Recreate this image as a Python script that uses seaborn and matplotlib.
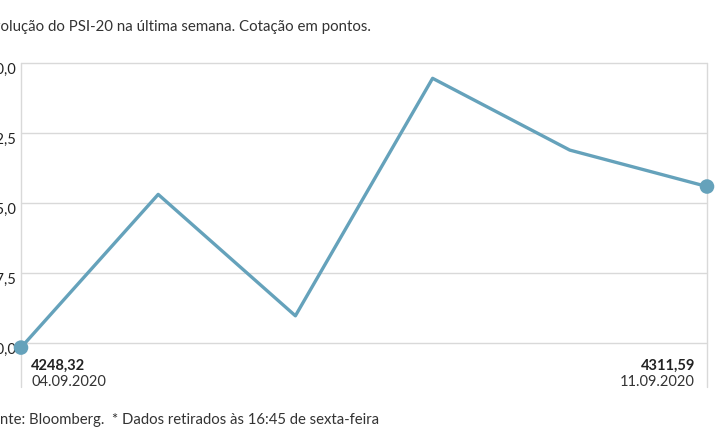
import matplotlib
matplotlib.use("Agg")
import matplotlib.pyplot as plt
import matplotlib.transforms as mtransforms
import seaborn as sns
import pandas as pd

# Data: PSI-20 closing values, last week
dates = ["04.09.2020", "07.09.2020", "08.09.2020", "09.09.2020", "10.09.2020", "11.09.2020"]
values = [4248.32, 4308.5, 4260.8, 4354.1, 4325.9, 4311.59]
yticks = [4250.0, 4277.5, 4305.0, 4332.5, 4360.0]

title = "Evolução do PSI-20 na última semana. Cotação em pontos."
source = "Fonte: Bloomberg.  * Dados retirados às 16:45 de sexta-feira"

df = pd.DataFrame({"pos": range(len(dates)), "date": dates, "value": values})

sns.set_theme(style="white")
plt.rcParams["font.family"] = ["Lato", "DejaVu Sans"]

line_color = "#65a2bb"
grid_color = "#d9d9d9"
text_color = "#333333"

W, H = 715, 445
fig = plt.figure(figsize=(W / 100, H / 100), dpi=100)
ax = fig.add_axes([21 / W, (H - 343.3) / H, (707 - 21) / W, 280 / H])

sns.lineplot(data=df, x="pos", y="value", color=line_color, linewidth=2.4, ax=ax, clip_on=False)
ends = df.iloc[[0, -1]]
sns.scatterplot(data=ends, x="pos", y="value", color=line_color, s=110, edgecolor="none",
                ax=ax, clip_on=False, zorder=5)

ax.set_xlim(0, len(dates) - 1)
ax.set_ylim(yticks[0], yticks[-1])
ax.set_yticks(yticks)
ax.set_yticklabels([f"{t:.1f}".replace(".", ",") for t in yticks], fontsize=10.5, color="#222222")
ax.set_xticks([])
ax.set_xlabel("")
ax.set_ylabel("")
ax.tick_params(axis="y", length=0, pad=3)
offset = mtransforms.ScaledTranslation(0, -5 / 100, fig.dpi_scale_trans)
for lab in ax.get_yticklabels():
    lab.set_transform(lab.get_transform() + offset)

for t in yticks:
    ax.axhline(t, color=grid_color, linewidth=1, zorder=0, clip_on=False)
for side in ["top", "right", "bottom", "left"]:
    ax.spines[side].set_visible(False)
for x in [0, len(dates) - 1]:
    ax.axvline(x, ymin=-0.156, ymax=1, color=grid_color, linewidth=1, clip_on=False, zorder=0)

# end labels
first, last = df.iloc[0], df.iloc[-1]
ax.annotate(f"{first.value:.2f}".replace(".", ","), xy=(0, 0), xycoords="axes fraction",
            xytext=(10, -22), textcoords="offset pixels", ha="left", va="center",
            fontsize=10.5, fontweight="bold", color="#222222")
ax.annotate(first.date, xy=(0, 0), xycoords="axes fraction",
            xytext=(10, -39), textcoords="offset pixels", ha="left", va="center",
            fontsize=10.5, color=text_color)
ax.annotate(f"{last.value:.2f}".replace(".", ","), xy=(1, 0), xycoords="axes fraction",
            xytext=(-12, -22), textcoords="offset pixels", ha="right", va="center",
            fontsize=10.5, fontweight="bold", color="#222222")
ax.annotate(last.date, xy=(1, 0), xycoords="axes fraction",
            xytext=(-12, -39), textcoords="offset pixels", ha="right", va="center",
            fontsize=10.5, color=text_color)

# title and source, cut off at the left edge like the reference
renderer = fig.canvas.get_renderer()
def cut_text(full, cut_chars, y, size):
    probe = fig.text(0, 0, full[:cut_chars], fontsize=size)
    w = probe.get_window_extent(renderer).width
    probe.remove()
    fig.text(-w / W, y, full, fontsize=size, color=text_color, ha="left", va="center")

cut_text(title, 2, 1 - 27 / H, 10.8)
cut_text(source, 2, 1 - 420 / H, 10.7)

fig.savefig("out.png", dpi=100)
